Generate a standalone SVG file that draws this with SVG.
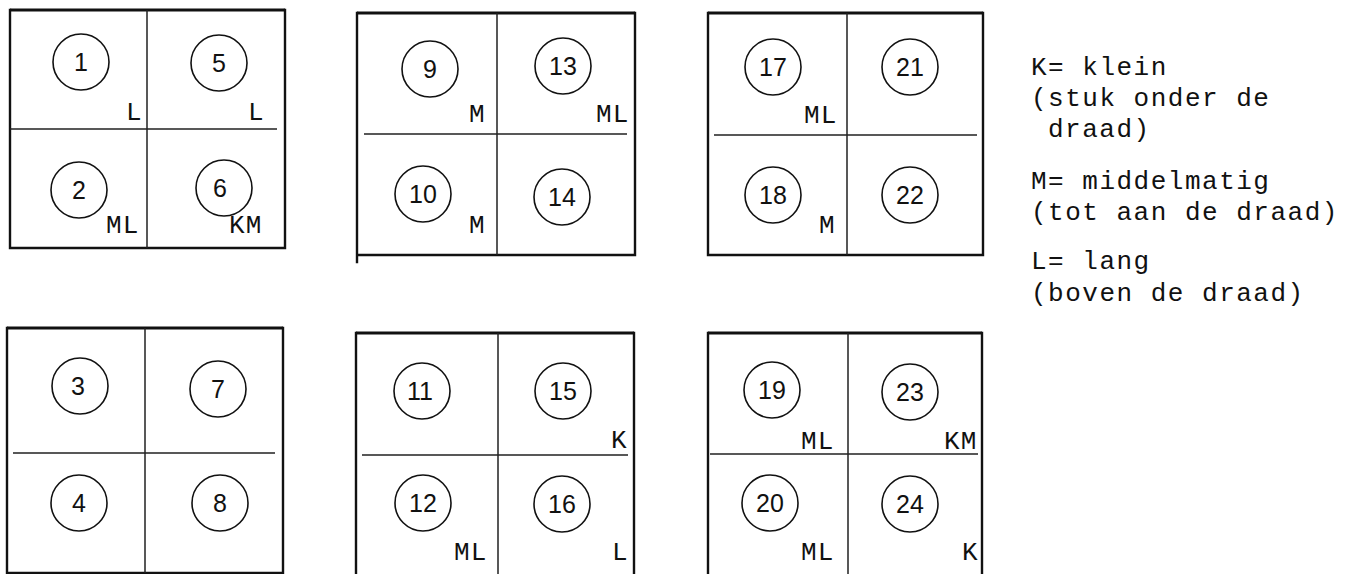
<svg xmlns="http://www.w3.org/2000/svg" width="1361" height="574" viewBox="0 0 1361 574">
<style>
.bg{fill:#ffffff}
.edge{stroke:#111;stroke-width:2.4;fill:none;stroke-linecap:square}
.top{stroke:#111;stroke-width:3;fill:none}
.div{stroke:#222;stroke-width:1.5;fill:none}
.ring{stroke:#111;stroke-width:1.6;fill:none}
.num{font-family:"Liberation Sans",Arial,sans-serif;font-size:25px;fill:#111;text-anchor:middle}
.lab{font-family:"Liberation Mono","Courier New",monospace;font-size:26px;fill:#111;letter-spacing:1.2px}
.leg{font-family:"Liberation Mono","Courier New",monospace;font-size:26px;fill:#111;letter-spacing:1.5px}
</style>
<rect class="bg" x="0" y="0" width="1361" height="574"/>

<g id="connectors">
  <path class="top" d="M10 10 H285"/>
  <path class="edge" d="M10 10 V248 H285 V10"/>
  <path class="div" d="M147 10 V248 M10 129 H277"/>
  <path class="top" d="M357 13 H635"/>
  <path class="edge" d="M357 13 V262 M357 255 H635 V13"/>
  <path class="div" d="M497 13 V255 M364 134 H627"/>
  <path class="top" d="M708 13 H983"/>
  <path class="edge" d="M708 13 V255 H983 V13"/>
  <path class="div" d="M847 13 V255 M714 135 H977"/>
  <path class="top" d="M7 328 H283"/>
  <path class="edge" d="M7 328 V573 H283 V328"/>
  <path class="div" d="M145 328 V573 M13 453 H275"/>
  <path class="top" d="M356 333 H634"/>
  <path class="edge" d="M356 333 V574 M634 333 V574"/>
  <path class="div" d="M498 333 V574 M362 455 H628"/>
  <path class="top" d="M708 333 H982"/>
  <path class="edge" d="M708 333 V574 M982 333 V574"/>
  <path class="div" d="M848 333 V574 M710 454 H978"/>
</g>

<g id="n1"><circle class="ring" cx="81" cy="62" r="28"/><text class="num" x="81" y="71">1</text><text class="lab" x="126" y="120">L</text></g>
<g id="n5"><circle class="ring" cx="219" cy="63" r="28"/><text class="num" x="219" y="72">5</text><text class="lab" x="248" y="120">L</text></g>
<g id="n2"><circle class="ring" cx="79" cy="190" r="28"/><text class="num" x="79" y="199">2</text><text class="lab" x="106" y="233">ML</text></g>
<g id="n6"><circle class="ring" cx="224" cy="188" r="28"/><text class="num" x="220" y="197">6</text><text class="lab" x="229" y="233">KM</text></g>

<g id="n9"><circle class="ring" cx="430" cy="69" r="28"/><text class="num" x="430" y="78">9</text><text class="lab" x="469" y="122">M</text></g>
<g id="n13"><circle class="ring" cx="563" cy="66" r="28"/><text class="num" x="563" y="75">13</text><text class="lab" x="596" y="122">ML</text></g>
<g id="n10"><circle class="ring" cx="423" cy="194" r="28"/><text class="num" x="423" y="203">10</text><text class="lab" x="469" y="233">M</text></g>
<g id="n14"><circle class="ring" cx="562" cy="197" r="28"/><text class="num" x="562" y="206">14</text></g>

<g id="n17"><circle class="ring" cx="773" cy="67" r="28"/><text class="num" x="773" y="76">17</text><text class="lab" x="804" y="123">ML</text></g>
<g id="n21"><circle class="ring" cx="910" cy="67" r="28"/><text class="num" x="910" y="76">21</text></g>
<g id="n18"><circle class="ring" cx="773" cy="195" r="28"/><text class="num" x="773" y="204">18</text><text class="lab" x="819" y="233">M</text></g>
<g id="n22"><circle class="ring" cx="910" cy="195" r="28"/><text class="num" x="910" y="204">22</text></g>

<g id="n3"><circle class="ring" cx="80" cy="386" r="28"/><text class="num" x="78" y="395">3</text></g>
<g id="n7"><circle class="ring" cx="218" cy="389" r="28"/><text class="num" x="218" y="398">7</text></g>
<g id="n4"><circle class="ring" cx="79" cy="503" r="28"/><text class="num" x="79" y="512">4</text></g>
<g id="n8"><circle class="ring" cx="220" cy="503" r="28"/><text class="num" x="220" y="512">8</text></g>

<g id="n11"><circle class="ring" cx="422" cy="391" r="28"/><text class="num" x="420" y="400">11</text></g>
<g id="n15"><circle class="ring" cx="563" cy="391" r="28"/><text class="num" x="563" y="400">15</text><text class="lab" x="611" y="448">K</text></g>
<g id="n12"><circle class="ring" cx="423" cy="503" r="28"/><text class="num" x="423" y="512">12</text><text class="lab" x="454" y="560">ML</text></g>
<g id="n16"><circle class="ring" cx="562" cy="504" r="28"/><text class="num" x="562" y="513">16</text><text class="lab" x="612" y="560">L</text></g>

<g id="n19"><circle class="ring" cx="772" cy="390" r="28"/><text class="num" x="772" y="399">19</text><text class="lab" x="801" y="449">ML</text></g>
<g id="n23"><circle class="ring" cx="910" cy="392" r="28"/><text class="num" x="910" y="401">23</text><text class="lab" x="944" y="449">KM</text></g>
<g id="n20"><circle class="ring" cx="770" cy="503" r="28"/><text class="num" x="770" y="512">20</text><text class="lab" x="801" y="560">ML</text></g>
<g id="n24"><circle class="ring" cx="910" cy="504" r="28"/><text class="num" x="910" y="513">24</text><text class="lab" x="962" y="560">K</text></g>

<g id="legend">
  <text class="leg" x="1031" y="75">K= klein</text>
  <text class="leg" x="1031" y="106">(stuk onder de</text>
  <text class="leg" x="1048" y="137">draad)</text>
  <text class="leg" x="1031" y="189">M= middelmatig</text>
  <text class="leg" x="1031" y="220">(tot aan de draad)</text>
  <text class="leg" x="1031" y="269">L= lang</text>
  <text class="leg" x="1031" y="301">(boven de draad)</text>
</g>
</svg>
